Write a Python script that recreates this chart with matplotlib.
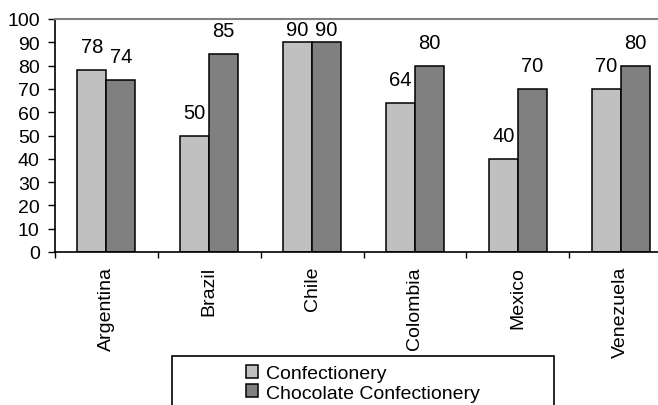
import numpy as np
import matplotlib.pyplot as plt
from matplotlib.patches import Rectangle

plt.rcParams['font.family'] = ['Liberation Sans', 'DejaVu Sans']

countries = ['Argentina', 'Brazil', 'Chile', 'Colombia', 'Mexico', 'Venezuela']
confectionery = [78, 50, 90, 64, 40, 70]
chocolate = [74, 85, 90, 80, 70, 80]
series_names = ['Confectionery', 'Chocolate Confectionery']

fig = plt.figure(figsize=(6.58, 4.06), dpi=100)
ax = fig.add_axes([55 / 658, 1 - 253 / 406, 617 / 658, 233 / 406])

x = np.arange(len(countries))
w = 0.282
b1 = ax.bar(x - w / 2, confectionery, w, color='#c0c0c0', edgecolor='black', linewidth=1.1, label=series_names[0])
b2 = ax.bar(x + w / 2, chocolate, w, color='#808080', edgecolor='black', linewidth=1.1, label=series_names[1])

# value labels above the bars, kept under the top of the plot
for bars, vals in ((b1, confectionery), (b2, chocolate)):
    for rect, v in zip(bars, vals):
        ax.text(rect.get_x() + rect.get_width() / 2, min(v + 10, 95.3), str(v),
                ha='center', va='center', fontsize=14.5)

ax.set_xlim(-0.5, len(countries) - 0.5)
ax.set_ylim(0, 100)
ax.set_yticks(range(0, 101, 10))
ax.tick_params(axis='y', direction='out', length=5, width=1, labelsize=14, pad=6)

ax.set_xticks(x)
ax.set_xticklabels(countries, rotation=90, fontsize=14)
ax.set_xticks(np.arange(-0.5, len(countries), 1), minor=True)
ax.tick_params(axis='x', which='major', length=0, pad=10)
ax.tick_params(axis='x', which='minor', direction='out', length=4, width=1)

ax.spines['right'].set_visible(False)
ax.spines['top'].set_color('#808080')
ax.spines['top'].set_linewidth(1.5)
ax.spines['left'].set_linewidth(1.2)
ax.spines['bottom'].set_linewidth(1.2)

fig.text(361 / 658, 1.009, '(%)', ha='right', va='baseline', fontsize=15, fontweight='bold')

# legend box running off the bottom edge
fig.patches.append(Rectangle((172 / 658, -0.05), (554 - 172) / 658, (0.05 + 1 - 357 / 406),
                             transform=fig.transFigure, fill=False, edgecolor='black',
                             linewidth=1.2, clip_on=False))
fig.legend(handles=[b1, b2], labels=series_names, loc='upper left',
           bbox_to_anchor=(246 / 658, 1 - 366 / 406), frameon=False, fontsize=14,
           handlelength=0.62, handleheight=0.62, handletextpad=0.4, labelspacing=0.12,
           borderpad=0, borderaxespad=0)

fig.savefig('out.png', dpi=100)
